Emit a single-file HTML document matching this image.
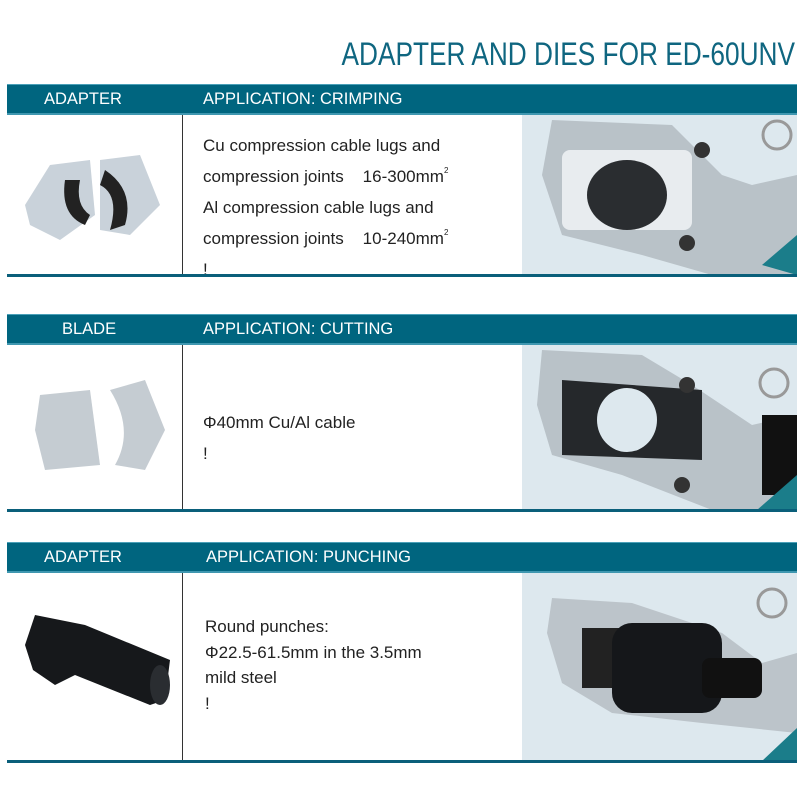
<!DOCTYPE html>
<html><head><style>
body{margin:0;width:800px;height:800px;background:#fff;position:relative;overflow:hidden;font-family:"Liberation Sans Narrow","Liberation Sans",sans-serif;}
.a{position:absolute}
.title{right:5px;top:36px;font-size:32px;color:#0f6680;white-space:nowrap;transform:scaleX(0.82);transform-origin:right top}
.bar{left:7px;width:790px;height:28px;background:#00657f;border-top:1px solid #4aa0b8;border-bottom:2px solid #3f97b0}
.bar span{position:absolute;top:4px;color:#fff;font-size:17px;transform:scaleX(0.97);transform-origin:left}
.line{left:7px;width:790px;height:3px;background:#0a5f7a}
.vl{left:182px;width:1px;background:#333}
.photo{left:522px;width:275px;background:#dde8ee}
.t{color:#222;font-size:17px;line-height:31px;white-space:nowrap}
sup{font-size:8px;line-height:0;position:relative;top:-9px;vertical-align:baseline}
</style></head><body>
<div class="a title">ADAPTER AND DIES FOR ED-60UNV</div>

<div class="a bar" style="top:84px"><span style="left:37px">ADAPTER</span><span style="left:196px">APPLICATION: CRIMPING</span></div>
<div class="a vl" style="top:115px;height:160px"></div>
<div class="a photo" style="top:115px;height:160px"></div>
<svg class="a" style="left:522px;top:115px" width="275" height="160">
<path d="M30 5 L150 10 L200 60 L230 70 L275 60 L275 160 L190 160 L120 140 L40 120 L20 60Z" fill="#b9c2c8"/>
<rect x="40" y="35" width="130" height="80" rx="8" fill="#e8ecef"/>
<ellipse cx="105" cy="80" rx="40" ry="35" fill="#2a2d30"/>
<circle cx="180" cy="35" r="8" fill="#333"/><circle cx="165" cy="128" r="8" fill="#333"/>
<circle cx="255" cy="20" r="14" fill="none" stroke="#999" stroke-width="3"/>
<path d="M240 150 L275 120 L275 160Z" fill="#1b7d8a"/>
</svg>
<svg class="a" style="left:20px;top:145px" width="140" height="100">
<path d="M5 60 L30 20 L70 15 L75 70 L40 95 L10 80Z" fill="#c9d2da"/>
<path d="M80 15 L120 10 L140 60 L110 90 L80 85Z" fill="#c9d2da"/>
<path d="M45 35 Q40 70 65 80 L70 70 Q55 60 60 35Z" fill="#222"/>
<path d="M80 40 Q100 50 90 85 L105 80 Q115 45 85 25Z" fill="#222"/>
</svg>
<div class="a t" style="left:203px;top:130px">Cu compression cable lugs and<br>compression joints&nbsp;&nbsp;&nbsp;&nbsp;16-300mm<sup>2</sup><br>Al compression cable lugs and<br>compression joints&nbsp;&nbsp;&nbsp;&nbsp;10-240mm<sup>2</sup><br>!</div>
<div class="a line" style="top:274px"></div>

<div class="a bar" style="top:314px"><span style="left:55px">BLADE</span><span style="left:196px">APPLICATION: CUTTING</span></div>
<div class="a vl" style="top:345px;height:165px"></div>
<div class="a photo" style="top:345px;height:165px"></div>
<svg class="a" style="left:522px;top:345px" width="275" height="165">
<path d="M20 5 L120 10 L170 40 L230 80 L275 70 L275 165 L190 165 L100 130 L30 110 L15 60Z" fill="#b9c2c8"/>
<path d="M40 35 L180 45 L180 115 L40 110Z" fill="#25282b"/>
<ellipse cx="105" cy="75" rx="30" ry="32" fill="#dde8ee"/>
<circle cx="165" cy="40" r="8" fill="#333"/><circle cx="160" cy="140" r="8" fill="#333"/>
<circle cx="252" cy="38" r="14" fill="none" stroke="#999" stroke-width="3"/>
<rect x="240" y="70" width="35" height="80" fill="#111"/>
<path d="M235 165 L275 130 L275 165Z" fill="#1b7d8a"/>
</svg>
<svg class="a" style="left:15px;top:370px" width="160" height="110">
<path d="M25 25 L75 20 L85 95 L30 100 L20 60Z" fill="#c5ccd2"/>
<path d="M95 20 L130 10 L150 60 L130 100 L100 95 Q120 60 95 20Z" fill="#c5ccd2"/>
</svg>
<div class="a t" style="left:203px;top:407px;line-height:31px">Φ40mm Cu/Al cable<br>!</div>
<div class="a line" style="top:509px"></div>

<div class="a bar" style="top:542px"><span style="left:37px">ADAPTER</span><span style="left:199px">APPLICATION: PUNCHING</span></div>
<div class="a vl" style="top:573px;height:190px"></div>
<div class="a photo" style="top:573px;height:188px"></div>
<svg class="a" style="left:522px;top:573px" width="275" height="188">
<path d="M30 25 L110 30 L200 60 L240 90 L275 80 L275 160 L180 150 L90 140 L40 110 L25 60Z" fill="#bcc4ca"/>
<rect x="60" y="55" width="60" height="60" fill="#222"/>
<rect x="90" y="50" width="110" height="90" rx="20" fill="#15171a"/>
<rect x="180" y="85" width="60" height="40" rx="8" fill="#111"/>
<circle cx="250" cy="30" r="14" fill="none" stroke="#999" stroke-width="3"/>
<path d="M240 188 L275 155 L275 188Z" fill="#1b7d8a"/>
</svg>
<svg class="a" style="left:5px;top:600px" width="170" height="120">
<path d="M30 15 L80 25 L165 60 L160 100 L145 105 L70 75 L50 85 L28 70 L20 45Z" fill="#16181b"/>
<ellipse cx="155" cy="85" rx="10" ry="20" fill="#2a2d31"/>
</svg>
<div class="a t" style="left:205px;top:614px;line-height:25.5px;">Round punches:<br>Φ22.5-61.5mm in the 3.5mm<br>mild steel<br>!</div>
<div class="a line" style="top:760px"></div>
</body></html>
